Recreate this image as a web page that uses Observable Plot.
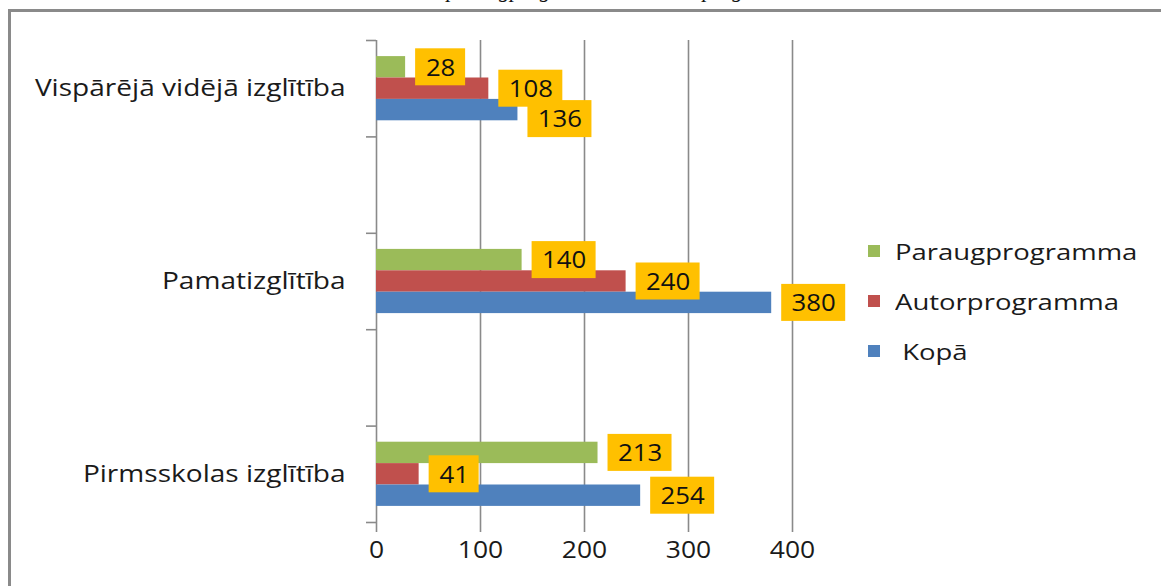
<!DOCTYPE html>
<html>
<head>
<meta charset="utf-8">
<script src="https://cdn.jsdelivr.net/npm/d3@7"></script>
<script src="https://cdn.jsdelivr.net/npm/@observablehq/plot@0.6"></script>
<style>
  html, body { margin: 0; padding: 0; background: #fff; overflow: hidden; }
  body { width: 1161px; height: 586px; position: relative; font-family: "Open Sans", sans-serif; }
  #title { position: absolute; left: 0; top: -23px; width: 1161px; text-align: center;
    font-family: "Liberation Serif", serif; font-style: italic; font-size: 22px; line-height: 26px; color: #111; }
  #frame { position: absolute; left: 8px; top: 9px; width: 1200px; height: 620px;
    border-left: 3px solid #8a8a8a; border-top: 3px solid #8a8a8a; background: #fff; }
  #chart { position: absolute; left: 0; top: 0; }
  #legend { position: absolute; left: 868px; top: 226px; font-size: 22px; color: #1a1a1a; }
  .li { display: flex; align-items: center; height: 50px; }
  .sw { width: 12px; height: 12px; margin-right: 15px; flex: none; }
  .lt { display: inline-block; transform: scaleX(1.25); transform-origin: left center; white-space: pre; }
</style>
</head>
<body>
<div id="title">Licencētās paraugprogrammas un autorprogrammas</div>
<div id="frame"></div>
<div id="chart"></div>
<div id="legend"></div>
<script>
// ---- data ----
const categories = ["Vispārējā vidējā izglītība", "Pamatizglītība", "Pirmsskolas izglītība"];
const series = ["Paraugprogramma", "Autorprogramma", "Kopā"];
const paraug = [28, 140, 213];
const autor = [108, 240, 41];
const kopa = [136, 380, 254];
const xTicks = [0, 100, 200, 300, 400];
const colors = ["#9BBB59", "#C0504D", "#4F81BD"];

// ---- layout ----
const W = 1161, H = 586;
const mL = 376, mR = 1161 - 792, mT = 40, mB = 586 - 522;
const plotW = W - mL - mR, plotH = H - mT - mB;
const slots = [categories[0], "gap1", categories[1], "gap2", categories[2]];
const bw = plotH / slots.length;
const barH = 21.4;
const padOut = (bw - 3 * barH) / 2;
const boxH = 37;
const kx = plotW / 400;
const boxW = v => String(v).length === 2 ? 50 : 64;

const values = [paraug, autor, kopa];
const rows = [];
categories.forEach((c, i) => series.forEach((s, k) => {
  const v = values[k][i];
  rows.push({cat: c, series: s, k, value: v, w: boxW(v)});
}));
// label placement: centred on its bar, nudged down when it collides with the label above
rows.forEach((r, idx) => {
  r.c = padOut + (r.k + 0.5) * barH;
  if (r.k > 0) {
    const p = rows[idx - 1];
    const l1 = p.value * kx + 10, r1 = l1 + p.w, l2 = r.value * kx + 10, r2 = l2 + r.w;
    if (l2 < r1 && l1 < r2) r.c += 9;
  }
});

const grid = "#8a8a8a";
const marks = [];
marks.push(Plot.ruleX(xTicks, {stroke: grid, strokeWidth: 1.6, insetBottom: -10}));
marks.push(Plot.ruleY(slots, {y: d => d, dy: -bw / 2, stroke: grid, strokeWidth: 1.6, insetLeft: -10, insetRight: plotW}));
marks.push(Plot.ruleY(slots.slice(-1), {y: d => d, dy: bw / 2, stroke: grid, strokeWidth: 1.6, insetLeft: -10, insetRight: plotW}));
series.forEach((s, k) => {
  marks.push(Plot.barX(rows.filter(r => r.k === k), {
    x1: 0, x2: "value", y: "cat", fill: colors[k],
    insetTop: padOut + k * barH, insetBottom: bw - padOut - (k + 1) * barH
  }));
});
// label boxes (one mark per box so each keeps its own size)
rows.forEach(r => {
  marks.push(Plot.barX([r], {
    x1: "value", x2: "value", y: "cat", fill: "#FFC000", dx: 10,
    insetRight: -r.w, insetTop: r.c - boxH / 2, insetBottom: bw - r.c - boxH / 2
  }));
});
rows.forEach(r => {
  marks.push(Plot.text([r], {
    x: "value", y: "cat", text: d => String(d.value), dx: 10 + r.w / 2, dy: r.c - bw / 2 + 1,
    fontSize: 23, fill: "#111", textAnchor: "middle", className: "stretch-lab"
  }));
});
marks.push(Plot.axisY({tickSize: 0, tickPadding: 31, label: null, tickFormat: d => d.startsWith("gap") ? "" : d, fontSize: 23, color: "#1a1a1a", className: "stretch-y"}));
marks.push(Plot.axisX(xTicks, {tickSize: 0, tickPadding: 19, label: null, fontSize: 23, color: "#1a1a1a", className: "stretch-x"}));

const chart = Plot.plot({
  width: W, height: H,
  marginLeft: mL, marginRight: mR, marginTop: mT, marginBottom: mB,
  style: {fontFamily: "Open Sans, sans-serif", background: "transparent", overflow: "visible"},
  x: {domain: [0, 400]},
  y: {domain: slots, paddingInner: 0, paddingOuter: 0, round: false},
  marks
});
document.getElementById("chart").appendChild(chart);

// horizontally stretch the text, as in the reference
function stretch(sel, f) {
  chart.querySelectorAll(sel).forEach(t => {
    const w = t.getComputedTextLength();
    if (w > 0) { t.setAttribute("textLength", w * f); t.setAttribute("lengthAdjust", "spacingAndGlyphs"); }
  });
}
stretch(".stretch-y text", 1.22);
stretch(".stretch-x text", 1.15);
stretch(".stretch-lab text", 1.12);

// legend
const lg = document.getElementById("legend");
series.forEach((s, k) => {
  const d = document.createElement("div"); d.className = "li";
  const sw = document.createElement("div"); sw.className = "sw"; sw.style.background = colors[k];
  const t = document.createElement("span"); t.className = "lt"; t.textContent = (s === "Kopā" ? " " : "") + s;
  d.appendChild(sw); d.appendChild(t); lg.appendChild(d);
});
</script>
</body>
</html>
